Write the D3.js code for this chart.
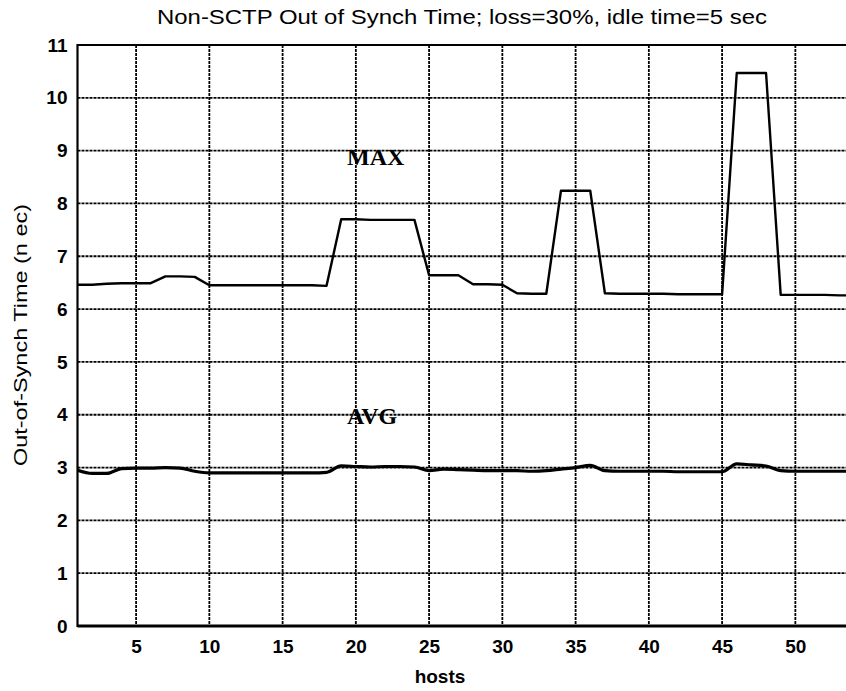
<!DOCTYPE html>
<html>
<head>
<meta charset="utf-8">
<script src="https://cdn.jsdelivr.net/npm/d3@7"></script>
<style>
  body { margin: 0; background: #fff; }
  svg { display: block; }
  text { font-family: "Liberation Sans", Arial, Helvetica, sans-serif; fill: #000; }
</style>
</head>
<body>
<div id="chart"></div>
<script>
let hosts = [1, 2, 3, 4, 5, 6, 7, 8, 9, 10, 11, 12, 13, 14, 15, 16, 17, 18, 19, 20,
    21, 22, 23, 24, 25, 26, 27, 28, 29, 30, 31, 32, 33, 34, 35, 36, 37, 38, 39, 40,
    41, 42, 43, 44, 45, 46, 47, 48, 49, 50, 51, 52, 53, 54]

let maxTime = [6.46, 6.46, 6.48, 6.49, 6.49, 6.49, 6.62, 6.62, 6.61, 6.45,
    6.45, 6.45, 6.45, 6.45, 6.45, 6.45, 6.45, 6.44, 7.70, 7.70,
    7.69, 7.69, 7.69, 7.69, 6.64, 6.64, 6.64, 6.47, 6.47, 6.46,
    6.30, 6.29, 6.29, 8.24, 8.24, 8.24, 6.30, 6.29, 6.29, 6.29,
    6.29, 6.28, 6.28, 6.28, 6.28, 10.47, 10.47, 10.47, 6.27, 6.27,
    6.27, 6.27, 6.26, 6.26]

let avgTime = [2.95, 2.89, 2.89, 2.98, 2.99, 2.99, 3.00, 2.99, 2.93, 2.90,
    2.90, 2.90, 2.90, 2.90, 2.90, 2.90, 2.90, 2.91, 3.03, 3.02,
    3.01, 3.02, 3.02, 3.01, 2.94, 2.97, 2.96, 2.95, 2.94, 2.94,
    2.94, 2.93, 2.94, 2.97, 3.00, 3.04, 2.94, 2.93, 2.93, 2.93,
    2.93, 2.92, 2.92, 2.92, 2.92, 3.07, 3.05, 3.03, 2.94, 2.93,
    2.93, 2.93, 2.93, 2.93]

let xTicks = [5, 10, 15, 20, 25, 30, 35, 40, 45, 50]
let yTicks = [0, 1, 2, 3, 4, 5, 6, 7, 8, 9, 10, 11]

let seriesLabels = [
    { name: "MAX", host: 19.4, value: 8.72 },
    { name: "AVG", host: 19.4, value: 3.82 }
]

let titleText = "Non-SCTP Out of Synch Time; loss=30%, idle time=5 sec"
let xLabel = "hosts"
let yLabel = "Out-of-Synch Time (n  ec)"

const width = 846, height = 691
const plotLeft = 77.5, plotTop = 45, plotBottom = 626

let svg = d3.select('#chart')
    .append('svg')
    .attr('width', width)
    .attr('height', height)

let x = d3.scaleLinear().domain([1, 54]).range([plotLeft, plotLeft + 53 * 14.65])
let y = d3.scaleLinear().domain([0, 11]).range([plotBottom, plotTop])
let plotRight = x(54)

// grid
let grid = svg.append('g')
grid.selectAll('.vgrid')
    .data(xTicks)
    .join('line')
    .attr('x1', d => x(d)).attr('x2', d => x(d))
    .attr('y1', plotTop).attr('y2', plotBottom)
    .attr('stroke', '#000')
    .attr('stroke-width', 1.8)
    .attr('stroke-dasharray', '3,1')

grid.selectAll('.hgrid')
    .data(yTicks.filter(d => d > 0 && d < 11))
    .join('line')
    .attr('x1', plotLeft).attr('x2', plotRight)
    .attr('y1', d => y(d)).attr('y2', d => y(d))
    .attr('stroke', '#000')
    .attr('stroke-width', 1.8)
    .attr('stroke-dasharray', '3,1')

// frame
svg.append('line').attr('x1', plotLeft).attr('x2', plotLeft).attr('y1', plotTop - 1).attr('y2', plotBottom + 1)
    .attr('stroke', '#000').attr('stroke-width', 2.2)
svg.append('line').attr('x1', plotLeft).attr('x2', plotRight).attr('y1', plotBottom).attr('y2', plotBottom)
    .attr('stroke', '#000').attr('stroke-width', 2.8)
svg.append('line').attr('x1', plotLeft).attr('x2', plotRight).attr('y1', plotTop).attr('y2', plotTop)
    .attr('stroke', '#000').attr('stroke-width', 2.2)

// axes (labels only, the frame is drawn above)
let xAxis = svg.append('g')
    .attr('transform', `translate(0,${plotBottom})`)
    .call(d3.axisBottom(x).tickValues(xTicks).tickSize(0).tickPadding(14))
xAxis.select('.domain').remove()
xAxis.selectAll('text')
    .attr('font-size', 19)
    .attr('font-weight', 'bold')
    .attr('font-family', '"Liberation Sans", Arial, sans-serif')

let yAxis = svg.append('g')
    .attr('transform', `translate(${plotLeft},0)`)
    .call(d3.axisLeft(y).tickValues(yTicks).tickSize(0).tickPadding(10))
yAxis.select('.domain').remove()
yAxis.selectAll('text')
    .attr('font-size', 19)
    .attr('font-weight', 'bold')
    .attr('font-family', '"Liberation Sans", Arial, sans-serif')

// lines
let pts = hosts.map((h, i) => ({ h: h, max: maxTime[i], avg: avgTime[i] }))

let maxLine = d3.line().x(d => x(d.h)).y(d => y(d.max))
let avgLine = d3.line().x(d => x(d.h)).y(d => y(d.avg)).curve(d3.curveMonotoneX)

svg.append('path')
    .datum(pts)
    .attr('d', maxLine)
    .attr('fill', 'none')
    .attr('stroke', '#000')
    .attr('stroke-width', 2.4)
    .attr('stroke-linejoin', 'round')

svg.append('path')
    .datum(pts)
    .attr('d', avgLine)
    .attr('fill', 'none')
    .attr('stroke', '#000')
    .attr('stroke-width', 3.2)

// series labels
svg.selectAll('.series-label')
    .data(seriesLabels)
    .join('text')
    .attr('class', 'series-label')
    .attr('x', d => x(d.host))
    .attr('y', d => y(d.value))
    .attr('font-weight', 'bold')
    .attr('font-size', 24)
    .style('font-family', '"Liberation Serif", "Times New Roman", serif')
    .text(d => d.name)

// title and axis titles
svg.append('text')
    .attr('x', 462)
    .attr('y', 24)
    .attr('text-anchor', 'middle')
    .attr('font-size', 20)
    .attr('textLength', 610)
    .attr('lengthAdjust', 'spacingAndGlyphs')
    .text(titleText)

svg.append('text')
    .attr('x', 440)
    .attr('y', 683)
    .attr('text-anchor', 'middle')
    .attr('font-size', 19)
    .attr('font-weight', 'bold')
    .text(xLabel)

svg.append('text')
    .attr('transform', 'translate(27,335) rotate(-90)')
    .attr('text-anchor', 'middle')
    .attr('font-size', 18)
    .attr('textLength', 262)
    .attr('lengthAdjust', 'spacingAndGlyphs')
    .text(yLabel)
</script>
</body>
</html>
